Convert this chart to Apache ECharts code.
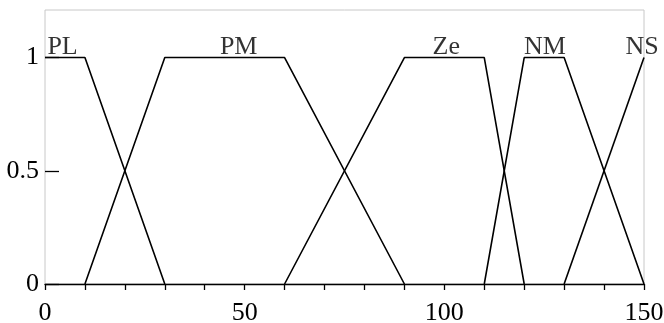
<!DOCTYPE html>
<html><head><meta charset="utf-8">
<script src="https://cdn.jsdelivr.net/npm/echarts@6/dist/echarts.min.js"></script>
<style>html,body{margin:0;padding:0;background:#fff}#c{width:664px;height:323px}</style>
</head><body><div id="c"></div>
<script>
// Membership functions (x, membership)
const PL = [[0,1],[10,1],[30,0]];
const PM = [[10,0],[30,1],[60,1],[90,0]];
const Ze = [[60,0],[90,1],[110,1],[120,0]];
const NM = [[110,0],[120,1],[130,1],[150,0]];
const NS = [[130,0],[150,1]];
const setNames = ['PL','PM','Ze','NM','NS'];
const labelX = [4.4, 48.5, 100.5, 125.2, 149.5];
const labelY = [1, 1, 1, 1, 1];
const xTickLabels = [0, 50, 100, 150];
const yTickLabels = [0, 0.5, 1];

const font = 'Liberation Serif';
const chart = echarts.init(document.getElementById('c'));
const lineSeries = [PL, PM, Ze, NM, NS].map((d, i) => ({
  name: setNames[i], type: 'line', data: d, symbol: 'none', silent: true,
  lineStyle: { color: '#000', width: 1.6 }, z: 3
}));
chart.setOption({
  animation: false,
  grid: { left: 45, right: 20, top: 10, bottom: 39, containLabel: false, outerBoundsMode: 'none',
    show: true, borderColor: '#c8c8c8', borderWidth: 1, backgroundColor: 'transparent' },
  xAxis: {
    type: 'value', min: 0, max: 150, interval: 10,
    axisLine: { show: true, lineStyle: { color: '#000', width: 1.4 } },
    axisTick: { show: true, length: 6, inside: false, lineStyle: { color: '#000', width: 1.3 } },
    axisLabel: { color: '#000', fontFamily: font, fontSize: 26, margin: 16, hideOverlap: false,
      formatter: v => xTickLabels.includes(v) ? String(v) : '' },
    splitLine: { show: false }
  },
  yAxis: {
    type: 'value', min: 0, max: 1.21, interval: 0.5,
    axisLine: { show: false },
    axisTick: { show: true, inside: true, length: 14, customValues: yTickLabels, lineStyle: { color: '#000', width: 1.3 } },
    axisLabel: { color: '#000', fontFamily: font, fontSize: 26, margin: 6, customValues: yTickLabels,
      formatter: v => yTickLabels.includes(v) ? String(v) : '' },
    splitLine: { show: false }
  },
  series: lineSeries.concat([{
    type: 'scatter', symbolSize: 0, silent: true, z: 4,
    data: setNames.map((n, i) => ({ value: [labelX[i], labelY[i]], name: n })),
    label: { show: true, position: 'top', distance: 0, offset: [0, 3], formatter: p => p.name,
      color: '#000', fontFamily: font, fontSize: 26 }
  }])
});
</script></body></html>
